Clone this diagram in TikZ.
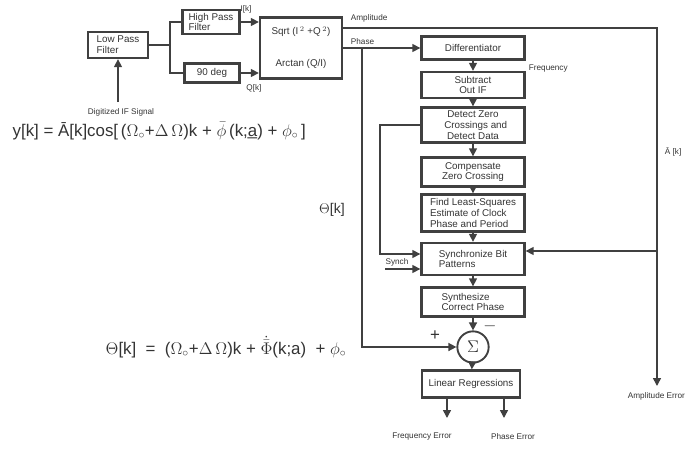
\documentclass[tikz,border=0pt]{standalone}
\usepackage{amsmath}
\usepackage{amssymb}
\usepackage{fontspec}
\setmainfont{Liberation Sans}
\usetikzlibrary{arrows.meta}

\begin{document}
\begin{tikzpicture}[x=0.03cm, y=-0.03cm, line width=1.3pt, draw=black!75, text=black!80,
  block/.style={rectangle, draw, line width=2pt, font=\fontsize{8.4}{9.2}\selectfont, align=center, inner sep=1pt, minimum width=3.09cm},
  sumnode/.style={circle, draw, line width=1.6pt, minimum size=9.4mm, inner sep=0pt},
  lbl/.style={font=\scriptsize, inner sep=1pt},
  >={Triangle[length=2.4mm, width=2.4mm]}]

    \useasboundingbox (0,0) rectangle (689,449);

    % front end
    \node[block, align=left, minimum width=1.8cm, minimum height=0.78cm] (lpf) at (118,45) {Low Pass\\Filter};
    \node[block, align=left, minimum width=1.71cm, minimum height=0.72cm] (hpf) at (211,22) {High Pass\\Filter};
    \node[block, minimum width=1.65cm, minimum height=0.57cm] (deg) at (212,73) {90 deg};
    \node[block, minimum width=2.46cm, minimum height=1.83cm] (polar) at (301,48) {Sqrt (I$^{\,2}$ +Q$^{\,2}$)\\[18pt]Arctan (Q/I)};
    \node[coordinate] (split) at (170,45) {};
    \node[coordinate] (input) at (118,102) {};

    \draw (lpf) -- (split);
    \draw (hpf.west) -| (split) |- (deg.west);
    \draw[->] (hpf.east) -- (polar.west |- hpf.east);
    \draw[->] (deg.east) -- (polar.west |- deg.east);
    \draw[->] (input) -- (lpf);
    \node[lbl] (ik) at (246,9) {I[k]};
    \node[lbl] (qk) at (254,88) {Q[k]};
    \node[lbl] (ifsig) at (121,112) {Digitized IF Signal};

    % processing chain
    \node[block] (diff)  at (473,48)  [minimum height=0.69cm] {Differentiator};
    \node[block] (subif) at (473,85)  [minimum height=0.78cm] {Subtract\\Out IF};
    \node[block] (detz)  at (473,125) [minimum height=1.05cm, inner sep=0pt] {Detect Zero\\\ \ Crossings and\\Detect Data};
    \node[block] (comp)  at (473,172) [minimum height=0.87cm] {Compensate\\Zero Crossing};
    \node[block] (lsq)   at (473,213) [minimum height=1.11cm, align=left] {Find Least-Squares\\Estimate of Clock\\Phase and Period};
    \node[block] (sync)  at (473,259) [minimum height=0.96cm, align=left] {Synchronize Bit\\Patterns\hspace{14mm}};
    \node[block] (synth) at (473,302) [minimum height=0.87cm, align=left] {Synthesize\hspace{11mm}\\Correct Phase};
    \node[sumnode] (sum) at (473,347) {\Large$\Sigma$};
    \node[block, minimum width=2.94cm] (linreg) at (471,384) [minimum height=0.81cm] {Linear Regressions};

    \foreach \a/\b in {diff/subif, subif/detz, detz/comp, comp/lsq, lsq/sync, sync/synth, synth/sum, sum/linreg}
      \draw[->] (\a) -- (\b);

    % amplitude and phase paths
    \node[coordinate] (ampc) at (657,28) {};
    \node[coordinate] (amperr) at (657,386) {};
    \node[coordinate] (ampb) at (657,251) {};
    \node[coordinate] (phtap) at (362,48) {};
    \node[coordinate] (fb) at (380,254) {};
    \node[coordinate] (synchin) at (385,269) {};
    \node[coordinate] (ferr) at (447,418) {};
    \node[coordinate] (perr) at (504,418) {};

    \draw[->] (polar.east |- ampc) -- (ampc) -- (amperr);
    \draw[->] (ampb) -- (sync.east |- ampb);
    \draw[->] (polar.east |- diff) -- (diff);
    \draw[->] (phtap) |- (sum.west);
    \draw[->] (detz.west) -| (fb) -- (sync.west |- fb);
    \draw[->] (synchin) -- (sync.west |- synchin);
    \draw[->] (linreg.south -| ferr) -- (ferr);
    \draw[->] (linreg.south -| perr) -- (perr);

    % labels
    \node[lbl, anchor=west] (amplbl) at (349,18) {Amplitude};
    \node[lbl, anchor=west] (phlbl) at (349,42) {Phase};
    \node[lbl, anchor=west] (freqlbl) at (527,69) {Frequency};
    \node[lbl] (synchlbl) at (397,262) {Synch};
    \node[font=\large] (thetalbl) at (332,210) {$\Theta$[k]};
    \node[lbl, anchor=west] (abar) at (663,152) {\=A [k]};
    \node[font=\Large] (plus) at (435,336) {+};
    \node[font=\Large] (minus) at (490,326) {$-$};
    \node[lbl, anchor=west] (amperrlbl) at (626,396) {Amplitude Error};
    \node[lbl] (ferrlbl) at (422,437) {Frequency Error};
    \node[lbl] (perrlbl) at (513,437) {Phase Error};

    % equations
    \node[font=\Large, anchor=west] (yeq) at (8,131) {y[k] = \=A[k]cos[\,($\Omega_{\circ}$+$\Delta\,\Omega$)k + $\bar{\phi}$\,(k;\b{a}) + $\phi_{\circ}$\,]};
    \node[font=\Large, anchor=west] (theq) at (101,347) {$\Theta$[k]\ \ =\ \ ($\Omega_{\circ}$+$\Delta\,\Omega$)k + $\dot{\bar{\Phi}}$(k;a)\ \ + $\phi_{\circ}$};
  \end{tikzpicture}
\end{document}
